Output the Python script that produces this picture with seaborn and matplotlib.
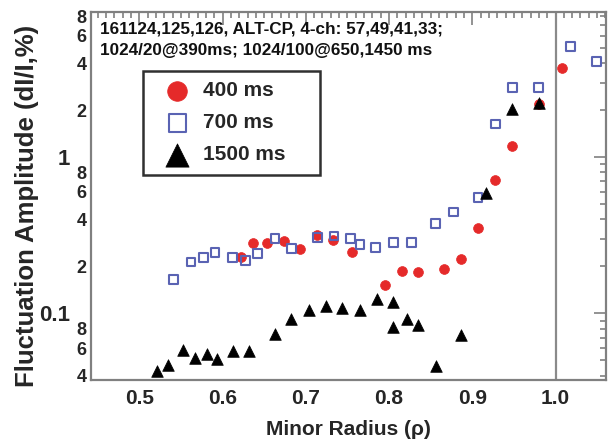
import numpy as np
import pandas as pd
import matplotlib
matplotlib.use("Agg")
import matplotlib.pyplot as plt
import seaborn as sns

# ---------------- data ----------------
x400 = [0.622, 0.637, 0.653, 0.674, 0.693, 0.714, 0.733, 0.755, 0.795, 0.816,
        0.835, 0.866, 0.886, 0.907, 0.927, 0.948, 0.980, 1.008]
y400 = [0.228, 0.282, 0.282, 0.291, 0.259, 0.316, 0.296, 0.249, 0.151, 0.188,
        0.184, 0.193, 0.223, 0.352, 0.712, 1.18, 2.18, 3.70]

x700 = [0.541, 0.562, 0.577, 0.591, 0.612, 0.628, 0.642, 0.663, 0.683, 0.714,
        0.734, 0.754, 0.765, 0.784, 0.805, 0.827, 0.856, 0.877, 0.907, 0.928,
        0.948, 0.980, 1.018, 1.049]
y700 = [0.165, 0.213, 0.228, 0.244, 0.228, 0.219, 0.243, 0.301, 0.260, 0.305,
        0.313, 0.301, 0.276, 0.264, 0.283, 0.283, 0.376, 0.446, 0.552, 1.63,
        2.78, 2.78, 5.09, 4.12]

x1500 = [0.521, 0.535, 0.552, 0.567, 0.581, 0.593, 0.612, 0.632, 0.663, 0.682,
         0.704, 0.724, 0.744, 0.765, 0.785, 0.805, 0.805, 0.821, 0.835, 0.856,
         0.886, 0.917, 0.948, 0.980]
y1500 = [0.0425, 0.0469, 0.0579, 0.0520, 0.0546, 0.0507, 0.0571, 0.0571, 0.0741, 0.0925,
         0.105, 0.111, 0.108, 0.105, 0.124, 0.119, 0.0822, 0.0919, 0.084, 0.0462,
         0.0723, 0.590, 2.02, 2.23]

series_labels = ["400 ms", "700 ms", "1500 ms"]

xtick_vals = [0.5, 0.6, 0.7, 0.8, 0.9, 1.0]
xtick_labels = ["0.5", "0.6", "0.7", "0.8", "0.9", "1.0"]
ytick_major_vals = [0.1, 1]
ytick_major_labels = ["0.1", "1"]
ytick_minor_vals = [0.04, 0.05, 0.06, 0.07, 0.08, 0.09,
                    0.2, 0.3, 0.4, 0.5, 0.6, 0.7, 0.8, 0.9,
                    2, 3, 4, 5, 6, 7, 8]
ytick_minor_labels = ["4", "", "6", "", "8", "",
                      "2", "", "4", "", "6", "", "8", "",
                      "2", "", "4", "", "6", "", "8"]

annotation = ("161124,125,126, ALT-CP, 4-ch: 57,49,41,33;\n"
              "1024/20@390ms; 1024/100@650,1450 ms")
xlabel = "Minor Radius (ρ)"
ylabel = "Fluctuation Amplitude (dI/I,%)"

# ---------------- style ----------------
sns.set_style("white")
plt.rcParams["font.family"] = ["Liberation Sans", "DejaVu Sans"]
plt.rcParams["font.weight"] = "bold"
plt.rcParams["axes.labelweight"] = "bold"

RED = "#e52a2a"
BLUE = "#5a63b3"
BLACK = "#000000"
FRAME = "#808080"

fig = plt.figure(figsize=(6.1, 4.47), dpi=100)
ax = fig.add_axes([0.1487, 0.1488, 0.8448, 0.8244])

df400 = pd.DataFrame({"x": x400, "y": y400})
df700 = pd.DataFrame({"x": x700, "y": y700})
df1500 = pd.DataFrame({"x": x1500, "y": y1500})

ax.axvline(1.0, color="#8a8a8a", lw=1.6, zorder=1)

sns.scatterplot(data=df700, x="x", y="y", ax=ax, marker="s", s=40,
                facecolor="none", edgecolor=BLUE, linewidth=1.5,
                label=series_labels[1], zorder=3)
sns.scatterplot(data=df400, x="x", y="y", ax=ax, marker="o", s=50,
                color=RED, edgecolor=RED, linewidth=0.5,
                label=series_labels[0], zorder=2)
sns.scatterplot(data=df1500, x="x", y="y", ax=ax, marker="^", s=70,
                color=BLACK, edgecolor=BLACK, linewidth=0.5,
                label=series_labels[2], zorder=4)

ax.set_yscale("log")
ax.set_xlim(0.4416, 1.0607)
ax.set_ylim(0.0372, 8.5)

ax.set_xticks(xtick_vals, labels=xtick_labels)
ax.xaxis.set_minor_locator(matplotlib.ticker.MultipleLocator(0.01))
ax.set_yticks(ytick_major_vals, labels=ytick_major_labels)
ax.set_yticks(ytick_minor_vals, labels=ytick_minor_labels, minor=True)

ax.tick_params(which="both", direction="in", top=True, right=True,
               color=FRAME, width=1.2)
ax.tick_params(which="major", length=9)
ax.tick_params(which="minor", length=4)
ax.tick_params(axis="x", which="major", labelsize=15, pad=6)
ax.tick_params(axis="y", which="major", labelsize=16, pad=15)
ax.tick_params(axis="y", which="minor", labelsize=13, pad=3)
for lbl in (ax.get_xticklabels() + ax.get_yticklabels()
            + ax.get_yticklabels(minor=True)):
    lbl.set_fontweight("bold")

for sp in ax.spines.values():
    sp.set_color(FRAME)
    sp.set_linewidth(1.6)

ax.set_xlabel(xlabel, fontsize=15, fontweight="bold", labelpad=9)
ax.set_ylabel(ylabel, fontsize=18.5, fontweight="bold")
ax.yaxis.set_label_coords(-0.10, 0.4735)

ax.text(0.018, 0.973, annotation, transform=ax.transAxes, ha="left", va="top",
        fontsize=12.3, fontweight="bold", linespacing=1.5, color="#111111")

handles, labels = ax.get_legend_handles_labels()
order = [labels.index(l) for l in series_labels]
leg = ax.legend([handles[i] for i in order], [labels[i] for i in order],
                loc="upper left", bbox_to_anchor=(0.1015, 0.5604, 0.3435, 0.2796),
                mode="expand",
                frameon=True, fancybox=False, framealpha=1,
                prop={"size": 15, "weight": "bold"},
                borderpad=0.5, labelspacing=0.62, handletextpad=0.1,
                handlelength=2.3, borderaxespad=0, markerscale=2.0)
leg.get_frame().set_edgecolor("#303030")
leg.get_frame().set_linewidth(1.8)

fig.savefig("out.png", dpi=100)
